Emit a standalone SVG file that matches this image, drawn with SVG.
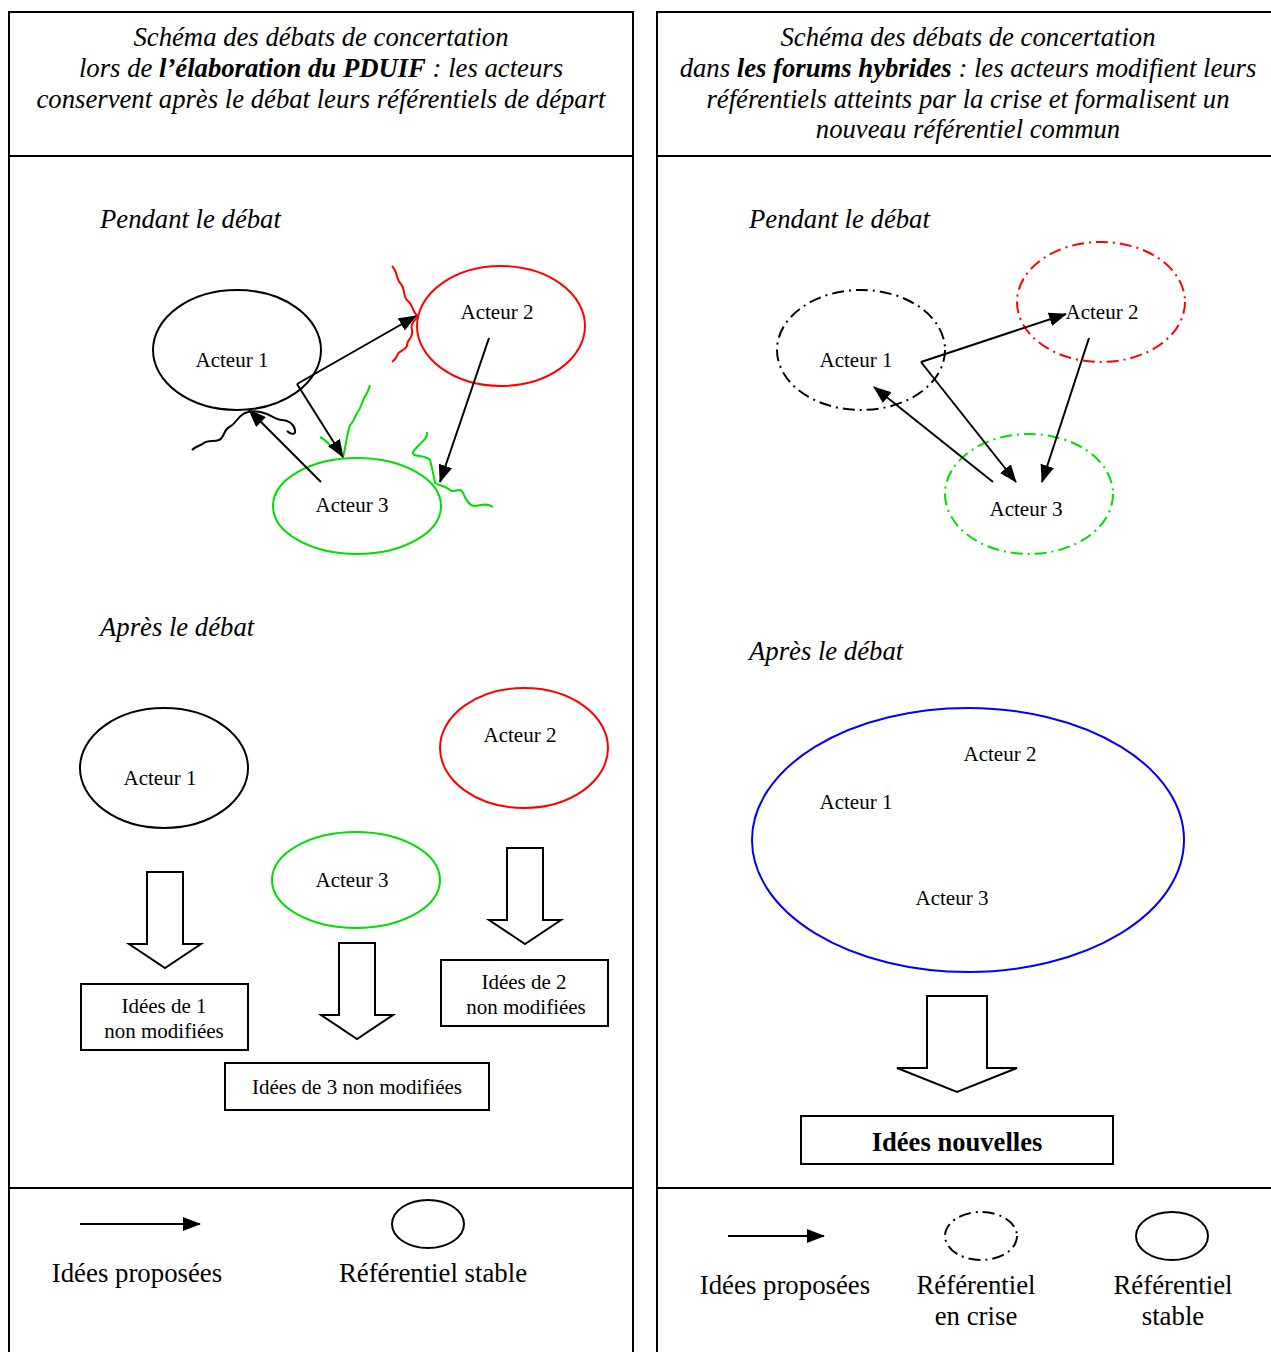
<svg xmlns="http://www.w3.org/2000/svg" width="1271" height="1352" viewBox="0 0 1271 1352">
<style>
text{font-family:"Liberation Serif","Times New Roman",serif;fill:#000}
.hd{font-size:26.7px;font-style:italic;text-anchor:middle}
.sec{font-size:26.7px;font-style:italic}
.lbl{font-size:21px;text-anchor:middle}
.leg{font-size:26.8px;text-anchor:middle}
.frame{stroke:#000;stroke-width:2;fill:none}
.el{fill:none;stroke-width:2}
.dd{stroke-dasharray:12 5 2 5}
.arr{stroke:#000;stroke-width:2;fill:none;marker-end:url(#ah)}
.wavy{fill:none;stroke-width:2}
.blk{fill:#fff;stroke:#000;stroke-width:2}
.box{fill:#fff;stroke:#000;stroke-width:2}
</style>
<defs>
<marker id="ah" markerUnits="userSpaceOnUse" markerWidth="18" markerHeight="14" refX="17" refY="7" orient="auto">
<path d="M0,0 L18,7 L0,14 Z" fill="#000"/>
</marker>
</defs>
<rect width="1271" height="1352" fill="#fff"/>
<g id="frame">
<path class="frame" d="M9,1352 V12 H633 V1352 M9,156 H633 M9,1188 H633"/>
<path class="frame" d="M657,1352 V12 H1271 M657,156 H1271 M657,1188 H1271"/>
</g>
<g id="header-left">
<text class="hd" x="321" y="46">Schéma des débats de concertation</text>
<text class="hd" x="321" y="77">lors de <tspan font-weight="bold">l’élaboration du PDUIF</tspan> : les acteurs</text>
<text class="hd" x="321" y="108">conservent après le débat leurs référentiels de départ</text>
</g>
<g id="header-right">
<text class="hd" x="968" y="46">Schéma des débats de concertation</text>
<text class="hd" x="968" y="77">dans <tspan font-weight="bold">les forums hybrides</tspan> : les acteurs modifient leurs</text>
<text class="hd" x="968" y="108">référentiels atteints par la crise et formalisent un</text>
<text class="hd" x="968" y="138">nouveau référentiel commun</text>
</g>
<text class="sec" x="100" y="228">Pendant le débat</text>
<text class="sec" x="100" y="636">Après le débat</text>
<text class="sec" x="749" y="228">Pendant le débat</text>
<text class="sec" x="749" y="660">Après le débat</text>

<!-- Left, during -->
<g id="L-acteur1"><ellipse class="el" cx="237" cy="350" rx="84" ry="60" stroke="#000"/><text class="lbl" x="232" y="367">Acteur 1</text></g>
<g id="L-acteur2"><ellipse class="el" cx="501" cy="326" rx="84" ry="60" stroke="#f00"/><text class="lbl" x="497" y="319">Acteur 2</text></g>
<g id="L-acteur3"><ellipse class="el" cx="357" cy="506" rx="84" ry="48" stroke="#0d0"/><text class="lbl" x="352" y="512">Acteur 3</text></g>
<g id="L-wavy">
<path class="wavy" stroke="#f00" d="M392,266 C398,272 396,280 401,284 C406,290 402,298 409,302 C414,307 412,312 418,316 C414,322 410,324 412,330 C414,338 406,340 407,346 C404,352 398,350 397,356 C395,360 393,361 392,362"/>
<path class="wavy" stroke="#000" d="M192,450 C196,446 200,446 204,443 C208,440 214,442 219,440 C224,438 224,430 228,428 C232,426 234,424 237,420 C240,416 243,413 248,412 C256,410 262,412 267,414 C272,416 276,420 282,420 C288,420 294,424 295,430 C296,436 290,434 287,431"/>
<path class="wavy" stroke="#0d0" d="M320,437 C326,440 330,446 333,447 C337,450 340,454 343,457 C346,446 346,438 350,425 C354,422 355,415 359,410 C362,405 363,398 366,395 C368,392 369,388 370,385"/>
<path class="wavy" stroke="#0d0" d="M427,432 C428,440 418,444 413,452 C412,458 424,454 430,460 C432,468 434,476 435,483 C440,486 446,486 450,490 C454,494 460,486 463,493 C466,500 470,506 474,506 C480,506 486,502 493,507"/>
</g>
<g id="L-connectors">
<line class="arr" x1="297" y1="384" x2="416" y2="316"/>
<line class="arr" x1="297" y1="384" x2="343" y2="457"/>
<line class="arr" x1="489" y1="338" x2="440" y2="482"/>
<line class="arr" x1="321" y1="482" x2="249" y2="410"/>
</g>

<!-- Left, after -->
<g id="L2-acteur1"><ellipse class="el" cx="164" cy="768" rx="84" ry="60" stroke="#000"/><text class="lbl" x="160" y="785">Acteur 1</text></g>
<g id="L2-acteur2"><ellipse class="el" cx="524" cy="748" rx="84" ry="60" stroke="#f00"/><text class="lbl" x="520" y="742">Acteur 2</text></g>
<g id="L2-acteur3"><ellipse class="el" cx="356" cy="880" rx="84" ry="48" stroke="#0d0"/><text class="lbl" x="352" y="887">Acteur 3</text></g>
<g id="L2-arrows">
<path class="blk" d="M147,872 H183 V944 H201 L165,968 L129,944 H147 Z"/>
<path class="blk" d="M339,943 H375 V1015 H393 L357,1039 L321,1015 H339 Z"/>
<path class="blk" d="M507,848 H543 V920 H561 L525,944 L489,920 H507 Z"/>
</g>
<g id="L2-idees1"><rect class="box" x="81" y="984" width="167" height="66"/><text class="lbl" x="164" y="1013">Idées de 1</text><text class="lbl" x="164" y="1038">non modifiées</text></g>
<g id="L2-idees2"><rect class="box" x="441" y="960" width="167" height="66"/><text class="lbl" x="524" y="989">Idées de 2</text><text class="lbl" x="526" y="1014">non modifiées</text></g>
<g id="L2-idees3"><rect class="box" x="225" y="1063" width="264" height="47"/><text class="lbl" x="357" y="1094">Idées de 3 non modifiées</text></g>

<!-- Right, during -->
<g id="R-acteur1"><ellipse class="el dd" cx="861" cy="350" rx="84" ry="60" stroke="#000"/><text class="lbl" x="856" y="367">Acteur 1</text></g>
<g id="R-acteur2"><ellipse class="el dd" cx="1101" cy="302" rx="84" ry="60" stroke="#f00"/><text class="lbl" x="1102" y="319">Acteur 2</text></g>
<g id="R-acteur3"><ellipse class="el dd" cx="1029" cy="494" rx="84" ry="60" stroke="#0d0"/><text class="lbl" x="1026" y="516">Acteur 3</text></g>
<g id="R-connectors">
<line class="arr" x1="921" y1="362" x2="1066" y2="314"/>
<line class="arr" x1="921" y1="362" x2="1016" y2="482"/>
<line class="arr" x1="1089" y1="338" x2="1042" y2="482"/>
<line class="arr" x1="993" y1="482" x2="874" y2="387"/>
</g>

<!-- Right, after -->
<g id="R2-commun">
<ellipse class="el" cx="968" cy="840" rx="216" ry="132" stroke="#00f"/>
<text class="lbl" x="1000" y="761">Acteur 2</text>
<text class="lbl" x="856" y="809">Acteur 1</text>
<text class="lbl" x="952" y="905">Acteur 3</text>
</g>
<g id="R2-arrow"><path class="blk" d="M927,996 H987 V1068 H1017 L957,1092 L897,1068 H927 Z"/></g>
<g id="R2-idees"><rect class="box" x="801" y="1116" width="312" height="48"/><text x="957" y="1151" font-size="26.6" font-weight="bold" text-anchor="middle">Idées nouvelles</text></g>

<!-- Legends -->
<g id="legend-left">
<line class="arr" x1="80" y1="1224" x2="200" y2="1224"/>
<ellipse class="el" cx="428" cy="1224" rx="36" ry="24" stroke="#000"/>
<text class="leg" x="137" y="1282">Idées proposées</text>
<text class="leg" x="433" y="1282">Référentiel stable</text>
</g>
<g id="legend-right">
<line class="arr" x1="728" y1="1236" x2="824" y2="1236"/>
<ellipse class="el dd" cx="981" cy="1236" rx="36" ry="24" stroke="#000"/>
<ellipse class="el" cx="1172" cy="1236" rx="36" ry="24" stroke="#000"/>
<text class="leg" x="785" y="1294">Idées proposées</text>
<text class="leg" x="976" y="1294">Référentiel</text>
<text class="leg" x="976" y="1325">en crise</text>
<text class="leg" x="1173" y="1294">Référentiel</text>
<text class="leg" x="1173" y="1325">stable</text>
</g>
</svg>
